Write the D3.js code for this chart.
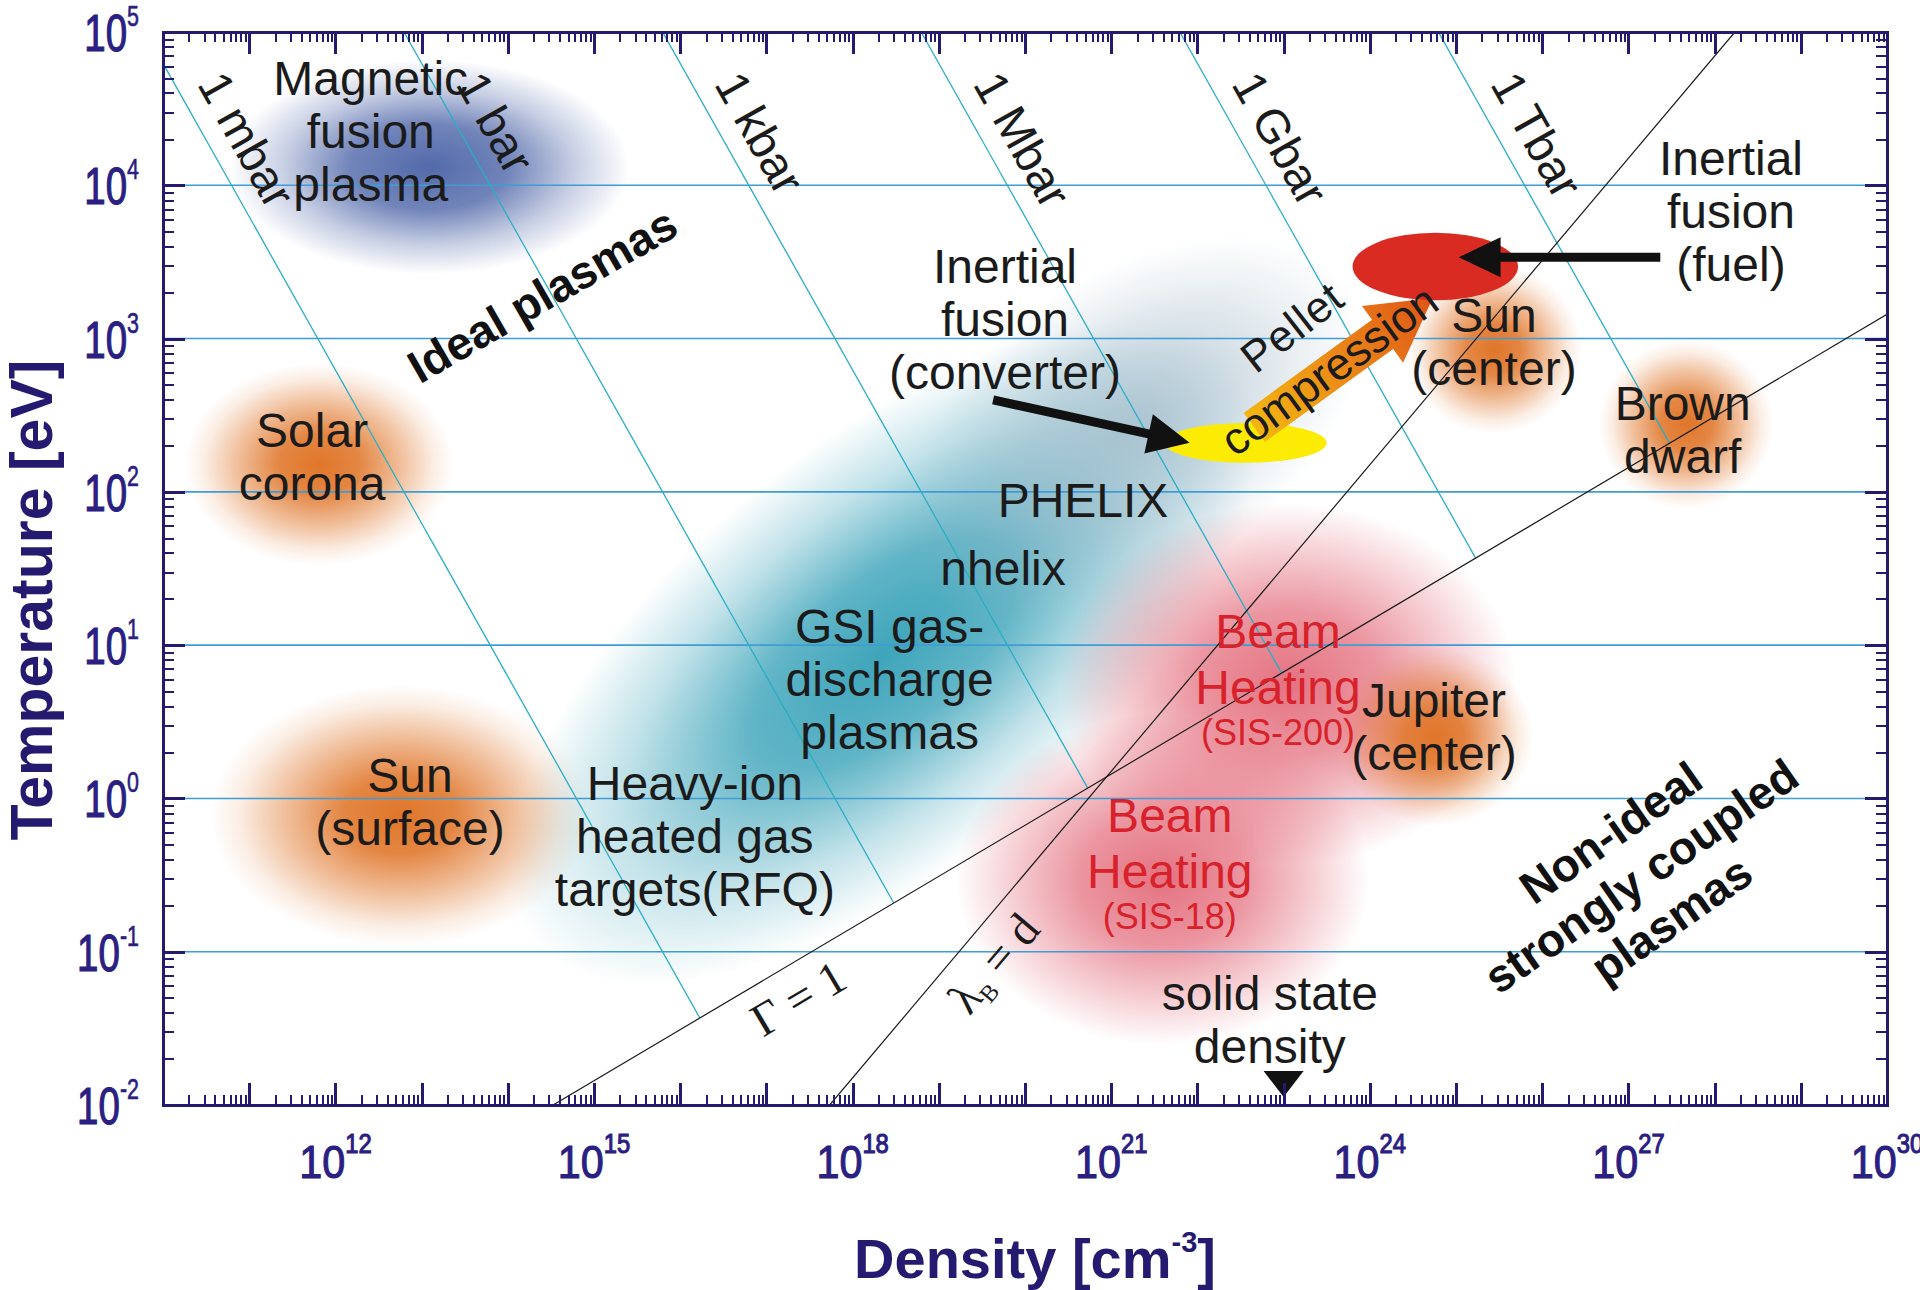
<!DOCTYPE html>
<html>
<head>
<meta charset="utf-8">
<title>Plasma parameter space</title>
<script src="https://cdn.jsdelivr.net/npm/d3@7/dist/d3.min.js"></script>
<style>
  html, body { margin: 0; padding: 0; background: #fff; }
  svg { display: block; }
  text { font-family: "Liberation Sans", Arial, Helvetica, sans-serif; }
  .serif { font-family: "Liberation Serif", "Times New Roman", serif; }
</style>
</head>
<body>
<svg id="chart" width="1920" height="1290"></svg>
<script>
// ---------------------------------------------------------------- data
const densityDomain = [1e10, 1e30];          // cm^-3
const temperatureDomain = [1e-2, 1e5];       // eV
const densityLabelExponents = [12, 15, 18, 21, 24, 27, 30];
const temperatureLabelExponents = [5, 4, 3, 2, 1, 0, -1, -2];
const gridExponents = [4, 3, 2, 1, 0, -1];

// isobars p = n kT
const isobarLabels = ["1 mbar", "1 bar", "1 kbar", "1 Mbar", "1 Gbar", "1 Tbar"];
const isobarPressureBar = [1e-3, 1, 1e3, 1e6, 1e9, 1e12];
const evPerCm3PerBar = 6.2415e17;
const isobarLabelLogT = 4.60;

// boundary lines, endpoints as [density, temperature]
const couplingLine = [[3.35e14, 1e-2], [1e30, 1.44e3]];     // Γ = 1
const degeneracyLine = [[5.43e17, 1e-2], [1.72e28, 1e5]];   // λB = d

// plasma regions: log10 density / temperature at both ends of the long axis,
// half-width across it in temperature decades
const regionNames = ["magnetic fusion", "solar corona", "sun surface", "gas discharge",
  "laser plasma", "SIS-200", "SIS-18", "sun center", "jupiter center", "brown dwarf"];
const regionLogN = [[10.77, 15.41], [10.25, 13.37], [10.55, 14.95], [14.30, 22.42],
  [18.75, 23.69], [20.40, 25.70], [19.20, 24.00], [24.42, 26.46], [23.62, 25.90], [26.66, 28.68]];
const regionLogT = [[4.12, 4.12], [2.18, 2.18], [-0.11, -0.11], [-0.95, 2.83],
  [1.43, 3.38], [0.75, 0.75], [-0.53, -0.53], [2.93, 2.93], [0.40, 0.40], [2.44, 2.44]];
const regionWidthDecades = [0.70, 0.66, 0.85, 1.36, 1.00, 1.18, 1.08, 0.55, 0.58, 0.55];
const regionKind = ["magnetic", "star", "star", "gas", "haze", "beam", "beam", "star", "star", "star"];

// inertial fusion states (log10 density, log10 temperature, half-axes in decades)
const fusionStates = ["converter", "fuel"];
const fusionLogN = [22.56, 24.76];
const fusionLogT = [2.32, 3.47];
const fusionHalfN = [0.94, 0.96];
const fusionHalfT = [0.13, 0.22];

// pellet compression path: [log10 n, log10 T] tail -> head
const compressionPath = [[22.66, 2.42], [24.73, 3.265]];
// pointers from labels to the fusion states
const pointerPaths = [
  [[19.63, 2.60], [21.91, 2.32]],
  [[27.37, 3.53], [25.03, 3.53]]
];
const solidDensity = 1e23;

// text annotations: lines, log10 density (centre), log10 temperature (first baseline)
const annotationLines = [
  ["Magnetic", "fusion", "plasma"],
  ["Solar", "corona"],
  ["Sun", "(surface)"],
  ["Heavy-ion", "heated gas", "targets(RFQ)"],
  ["GSI gas-", "discharge", "plasmas"],
  ["nhelix"],
  ["PHELIX"],
  ["Inertial", "fusion", "(converter)"],
  ["Inertial", "fusion", "(fuel)"],
  ["Sun", "(center)"],
  ["Brown", "dwarf"],
  ["Jupiter", "(center)"],
  ["solid state", "density"]
];
const annotationLogN = [12.41, 11.73, 12.865, 16.17, 18.43, 19.745, 20.673, 19.768, 28.19, 25.44, 27.63, 24.745, 22.84];
const annotationLogT = [4.589, 2.293, 0.042, -0.010, 1.014, 1.393, 1.836, 3.363, 4.067, 3.043, 2.469, 0.532, -1.380];

const beamLines = [["Beam", "Heating", "(SIS-200)"], ["Beam", "Heating", "(SIS-18)"]];
const beamLogN = [22.935, 21.68];
const beamLogT = [0.982, -0.219];

// regime labels, centred, rotated
const regimeLines = [["Ideal plasmas"], ["Non-ideal", "strongly coupled", "plasmas"]];
const regimeLogN = [14.40, 27.146];
const regimeLogT = [3.284, -0.506];
const regimeAngle = [-30, -35];

// ---------------------------------------------------------------- layout
const plot = { left: 163, right: 1887, top: 32, bottom: 1105 };
const navy = "#241a70";
const labelNavy = "#2a2082";
const ink = "#1b1b1b";

const x = d3.scaleLog().domain(densityDomain).range([plot.left, plot.right]);
const y = d3.scaleLog().domain(temperatureDomain).range([plot.bottom, plot.top]);
const X = e => x(Math.pow(10, e));
const Y = e => y(Math.pow(10, e));
const pxPerDecadeT = y(1) - y(10);

const svg = d3.select("#chart");
svg.append("rect").attr("width", 1920).attr("height", 1290).attr("fill", "#fff");
const defs = svg.append("defs");

const clip = defs.append("clipPath").attr("id", "plotClip");
clip.append("rect").attr("x", plot.left).attr("y", plot.top)
  .attr("width", plot.right - plot.left).attr("height", plot.bottom - plot.top);

// ---------------------------------------------------------------- soft regions
const blobPalette = { magnetic: "#536aab", star: "#e0762a", gas: "#34a0b7", haze: "#9db6c6", beam: "#e05a6b" };
const blobProfile = {
  magnetic: [[0, 1], [0.4, 0.82], [0.72, 0.33], [1, 0]],
  star: [[0, 1], [0.3, 0.88], [0.62, 0.45], [0.85, 0.13], [1, 0]],
  gas: [[0, 0.95], [0.35, 0.78], [0.7, 0.3], [1, 0]],
  haze: [[0, 0.72], [0.45, 0.45], [0.8, 0.15], [1, 0]],
  beam: [[0, 0.85], [0.4, 0.64], [0.75, 0.27], [1, 0]]
};
const blobLayer = svg.append("g").attr("clip-path", "url(#plotClip)");
const blobOrder = [3, 4, 5, 6, 0, 1, 2, 7, 8, 9];
blobOrder.forEach(i => {
  const id = "blob" + i;
  const grad = defs.append("radialGradient").attr("id", id);
  blobProfile[regionKind[i]].forEach(([o, a]) => grad.append("stop")
    .attr("offset", o).attr("stop-color", blobPalette[regionKind[i]]).attr("stop-opacity", a));
  const x1 = X(regionLogN[i][0]), y1 = Y(regionLogT[i][0]);
  const x2 = X(regionLogN[i][1]), y2 = Y(regionLogT[i][1]);
  const cx = (x1 + x2) / 2, cy = (y1 + y2) / 2;
  const rx = Math.hypot(x2 - x1, y2 - y1) / 2;
  const ry = regionWidthDecades[i] * pxPerDecadeT;
  const ang = Math.atan2(y2 - y1, x2 - x1) * 180 / Math.PI;
  blobLayer.append("ellipse")
    .attr("cx", cx).attr("cy", cy).attr("rx", rx).attr("ry", ry)
    .attr("transform", `rotate(${ang},${cx},${cy})`)
    .attr("fill", `url(#${id})`);
});

// ---------------------------------------------------------------- grid
const lineLayer = svg.append("g").attr("clip-path", "url(#plotClip)");
lineLayer.selectAll("line.grid").data(gridExponents).join("line")
  .attr("class", "grid")
  .attr("x1", plot.left).attr("x2", plot.right)
  .attr("y1", d => Y(d)).attr("y2", d => Y(d))
  .attr("stroke", "#3f9cd4").attr("stroke-width", 1.6);

// ---------------------------------------------------------------- isobars
const logLine = pts => pts.map(([n, t]) => [Math.log10(n), Math.log10(t)]);
const gl = logLine(couplingLine);
const gSlope = (gl[1][1] - gl[0][1]) / (gl[1][0] - gl[0][0]);

const isobars = isobarPressureBar.map((p, i) => {
  const L = Math.log10(p * evPerCm3PerBar);          // log10(n T)
  const maxT = Math.log10(temperatureDomain[1]);
  const minN = Math.log10(densityDomain[0]);
  const start = (L - minN > maxT) ? [L - maxT, maxT] : [minN, L - minN];
  const nEnd = (L - gl[0][1] + gSlope * gl[0][0]) / (1 + gSlope);
  return { label: isobarLabels[i], L, start, end: [nEnd, L - nEnd] };
});

lineLayer.selectAll("line.isobar").data(isobars).join("line")
  .attr("class", "isobar")
  .attr("x1", d => X(d.start[0])).attr("y1", d => Y(d.start[1]))
  .attr("x2", d => X(d.end[0])).attr("y2", d => Y(d.end[1]))
  .attr("stroke", "#2aaec7").attr("stroke-width", 1.3);

// Γ = 1 and λB = d
[couplingLine, degeneracyLine].forEach(pts => {
  lineLayer.append("line")
    .attr("x1", x(pts[0][0])).attr("y1", y(pts[0][1]))
    .attr("x2", x(pts[1][0])).attr("y2", y(pts[1][1]))
    .attr("stroke", "#1a1a1a").attr("stroke-width", 1.2);
});

// isobar labels
isobars.forEach(d => {
  const px = X(d.L - isobarLabelLogT), py = Y(isobarLabelLogT);
  const ang = Math.atan2(Y(d.end[1]) - Y(d.start[1]), X(d.end[0]) - X(d.start[0]));
  const off = 19;
  const tx = px + Math.sin(ang) * off, ty = py - Math.cos(ang) * off;
  svg.append("text")
    .attr("transform", `translate(${tx},${ty}) rotate(${ang * 180 / Math.PI})`)
    .attr("font-size", 47).attr("fill", ink)
    .text(d.label);
});

// ---------------------------------------------------------------- fusion shapes
function arrowPolygon(x1, y1, x2, y2, shaftW, headW, headL) {
  const dx = x2 - x1, dy = y2 - y1, L = Math.hypot(dx, dy);
  const ux = dx / L, uy = dy / L, px = -uy, py = ux;
  const bx = x2 - ux * headL, by = y2 - uy * headL;
  return [
    [x1 + px * shaftW / 2, y1 + py * shaftW / 2],
    [bx + px * shaftW / 2, by + py * shaftW / 2],
    [bx + px * headW / 2, by + py * headW / 2],
    [x2, y2],
    [bx - px * headW / 2, by - py * headW / 2],
    [bx - px * shaftW / 2, by - py * shaftW / 2],
    [x1 - px * shaftW / 2, y1 - py * shaftW / 2]
  ];
}

const shapeLayer = svg.append("g");
// converter (yellow)
shapeLayer.append("ellipse")
  .attr("cx", X(fusionLogN[0])).attr("cy", Y(fusionLogT[0]))
  .attr("rx", X(fusionLogN[0] + fusionHalfN[0]) - X(fusionLogN[0]))
  .attr("ry", fusionHalfT[0] * pxPerDecadeT)
  .attr("fill", "#fcec05");

// compression arrow
const cx1 = X(compressionPath[0][0]), cy1 = Y(compressionPath[0][1]);
const cx2 = X(compressionPath[1][0]), cy2 = Y(compressionPath[1][1]);
const cg = defs.append("linearGradient").attr("id", "compressGrad")
  .attr("gradientUnits", "userSpaceOnUse")
  .attr("x1", cx1).attr("y1", cy1).attr("x2", cx2).attr("y2", cy2);
[[0, "#f3b612"], [0.45, "#ec8c17"], [1, "#df5518"]].forEach(([o, c]) =>
  cg.append("stop").attr("offset", o).attr("stop-color", c));
shapeLayer.append("polygon")
  .attr("points", arrowPolygon(cx1, cy1, cx2, cy2, 36, 70, 62).map(p => p.join(",")).join(" "))
  .attr("fill", "url(#compressGrad)");

// fuel (red)
shapeLayer.append("ellipse")
  .attr("cx", X(fusionLogN[1])).attr("cy", Y(fusionLogT[1]))
  .attr("rx", X(fusionLogN[1] + fusionHalfN[1]) - X(fusionLogN[1]))
  .attr("ry", fusionHalfT[1] * pxPerDecadeT)
  .attr("fill", "#d92b22");

// pointer arrows
pointerPaths.forEach(p => {
  const a = arrowPolygon(X(p[0][0]), Y(p[0][1]), X(p[1][0]), Y(p[1][1]), 9, 40, 42);
  shapeLayer.append("polygon").attr("points", a.map(q => q.join(",")).join(" ")).attr("fill", "#111");
});

// solid state density marker
const sx = x(solidDensity);
shapeLayer.append("polygon")
  .attr("points", [[sx - 20, 1071], [sx + 20, 1071], [sx, 1097]].map(p => p.join(",")).join(" "))
  .attr("fill", "#111");

// ---------------------------------------------------------------- axes
// log-scale ticks: 1..9 x 10^k on every decade
const frame = svg.append("g").attr("shape-rendering", "crispEdges");
const isPow = v => Math.abs(Math.log10(v) - Math.round(Math.log10(v))) < 1e-9;
const allN = x.ticks(100);
const majorN = allN.filter(isPow);
const minorN = allN.filter(v => !isPow(v));
const allT = y.ticks(60);
const majorT = allT.filter(isPow);
const minorT = allT.filter(v => !isPow(v));

function tickAxis(axisFn, scale, values, size, transform, width) {
  const g = frame.append("g").attr("transform", transform)
    .call(axisFn(scale).tickValues(values).tickSizeInner(-size).tickSizeOuter(0).tickFormat(""));
  g.select(".domain").remove();
  g.selectAll(".tick text").remove();
  g.selectAll(".tick line").attr("stroke", navy).attr("stroke-width", width);
}
tickAxis(d3.axisBottom, x, minorN, 10, `translate(0,${plot.bottom})`, 2);
tickAxis(d3.axisBottom, x, majorN, 22, `translate(0,${plot.bottom})`, 3);
tickAxis(d3.axisTop, x, minorN, 10, `translate(0,${plot.top})`, 2);
tickAxis(d3.axisTop, x, majorN, 22, `translate(0,${plot.top})`, 3);
tickAxis(d3.axisLeft, y, minorT, 11, `translate(${plot.left},0)`, 2);
tickAxis(d3.axisLeft, y, majorT, 22, `translate(${plot.left},0)`, 3);
tickAxis(d3.axisRight, y, minorT, 11, `translate(${plot.right},0)`, 2);
tickAxis(d3.axisRight, y, majorT, 22, `translate(${plot.right},0)`, 3);

frame.append("rect")
  .attr("x", plot.left).attr("y", plot.top)
  .attr("width", plot.right - plot.left).attr("height", plot.bottom - plot.top)
  .attr("fill", "none").attr("stroke", navy).attr("stroke-width", 3);

// tick labels: 10 with superscript exponent
densityLabelExponents.forEach(e => {
  const g = svg.append("g").attr("transform", `translate(${x(Math.pow(10, e))},1178) scale(0.88,1)`);
  const t = g.append("text").attr("text-anchor", "middle").attr("font-size", 47).attr("fill", labelNavy)
    .attr("stroke", labelNavy).attr("stroke-width", 1.1);
  t.append("tspan").text("10");
  t.append("tspan").attr("dy", -25).attr("font-size", 27).text(e);
});
temperatureLabelExponents.forEach(e => {
  const g = svg.append("g").attr("transform", `translate(139,${y(Math.pow(10, e)) + 19}) scale(0.74,1)`);
  const t = g.append("text").attr("text-anchor", "end").attr("font-size", 52).attr("fill", labelNavy)
    .attr("stroke", labelNavy).attr("stroke-width", 1.2);
  t.append("tspan").text("10");
  t.append("tspan").attr("dy", -25).attr("font-size", 29).attr("stroke-width", 0.6).text(e);
});

// axis titles
svg.append("text")
  .attr("transform", "translate(52,600) rotate(-90)")
  .attr("text-anchor", "middle").attr("font-size", 59).attr("font-weight", "bold").attr("fill", navy)
  .text("Temperature [eV]");
const xt = svg.append("text")
  .attr("x", 1035).attr("y", 1278)
  .attr("text-anchor", "middle").attr("font-size", 56).attr("font-weight", "bold").attr("fill", navy);
xt.append("tspan").text("Density [cm");
xt.append("tspan").attr("dy", -26).attr("font-size", 29).text("-3");
xt.append("tspan").attr("dy", 26).text("]");

// ---------------------------------------------------------------- annotations
const textLayer = svg.append("g");
const lineStep = 53;
annotationLines.forEach((lines, i) => {
  const t = textLayer.append("text")
    .attr("text-anchor", "middle").attr("font-size", 48).attr("fill", ink);
  lines.forEach((s, k) => t.append("tspan")
    .attr("x", X(annotationLogN[i])).attr("y", Y(annotationLogT[i]) + k * lineStep).text(s));
});

beamLines.forEach((lines, i) => {
  const bx = X(beamLogN[i]), by = Y(beamLogT[i]);
  const t = textLayer.append("text").attr("text-anchor", "middle").attr("fill", "#d8222b");
  t.append("tspan").attr("x", bx).attr("y", by).attr("font-size", 48).text(lines[0]);
  t.append("tspan").attr("x", bx).attr("y", by + 56).attr("font-size", 48).text(lines[1]);
  t.append("tspan").attr("x", bx).attr("y", by + 97).attr("font-size", 36).text(lines[2]);
});

regimeLines.forEach((lines, i) => {
  const g = textLayer.append("g")
    .attr("transform", `translate(${X(regimeLogN[i])},${Y(regimeLogT[i])}) rotate(${regimeAngle[i]})`);
  const mid = (lines.length - 1) / 2;
  lines.forEach((s, k) => g.append("text")
    .attr("text-anchor", "middle").attr("y", (k - mid) * 53).attr("dy", "0.35em")
    .attr("font-size", 46).attr("font-weight", "bold").attr("fill", "#111").text(s));
});

// pellet compression labels along the arrow
const compAng = Math.atan2(cy2 - cy1, cx2 - cx1) * 180 / Math.PI;
textLayer.append("text")
  .attr("transform", `translate(${X(23.097)},${Y(3.076)}) rotate(${compAng - 2})`)
  .attr("text-anchor", "middle").attr("dy", "0.35em").attr("font-size", 44).attr("fill", ink)
  .attr("letter-spacing", 1).text("Pellet");
textLayer.append("text")
  .attr("transform", `translate(${X(23.527)},${Y(2.795)}) rotate(${compAng})`)
  .attr("text-anchor", "middle").attr("dy", "0.35em").attr("font-size", 45).attr("fill", ink)
  .text("compression");

// Γ = 1 and λB = d labels, aligned with their lines
const lineAngle = pts => Math.atan2(y(pts[1][1]) - y(pts[0][1]), x(pts[1][0]) - x(pts[0][0])) * 180 / Math.PI;
textLayer.append("text").attr("class", "serif")
  .attr("transform", `translate(${X(17.367)},${Y(-1.301)}) rotate(${lineAngle(couplingLine)})`)
  .attr("text-anchor", "middle").attr("dy", "0.35em").attr("font-size", 47).attr("fill", ink)
  .text("Γ = 1");
const lam = textLayer.append("text").attr("class", "serif")
  .attr("transform", `translate(${X(19.629)},${Y(-1.073)}) rotate(${lineAngle(degeneracyLine)})`)
  .attr("text-anchor", "middle").attr("dy", "0.35em").attr("font-size", 47).attr("fill", ink);
lam.append("tspan").text("λ");
lam.append("tspan").attr("font-size", 24).attr("dy", 8).text("B");
lam.append("tspan").attr("dy", -8).text(" = d");
</script>
</body>
</html>
